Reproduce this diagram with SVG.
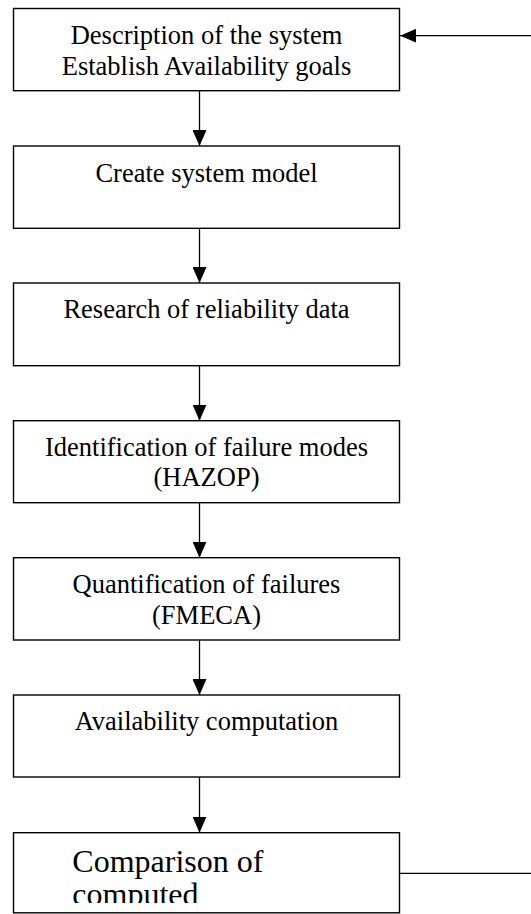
<svg xmlns="http://www.w3.org/2000/svg" width="531" height="914" viewBox="0 0 531 914">
  <style>
    .box { fill: #fff; stroke: #000; stroke-width: 1.4; }
    .lbl { font-family: "Liberation Serif", "Times New Roman", serif; font-size: 26.5px; fill: #000; text-anchor: middle; }
    .big { font-family: "Liberation Serif", "Times New Roman", serif; font-size: 32px; fill: #000; }
    .wire { fill: none; stroke: #000; stroke-width: 1.3; }
  </style>
  <defs>
    <marker id="head" markerUnits="userSpaceOnUse" markerWidth="16" markerHeight="14" refX="16" refY="7" orient="auto">
      <path d="M0,0 L16,7 L0,14 Z" fill="#000"/>
    </marker>
    <clipPath id="clip-last">
      <rect x="0" y="832" width="531" height="71"/>
    </clipPath>
  </defs>
  <rect width="531" height="914" fill="#fff"/>

  <g id="n1">
    <rect class="box" x="13.5" y="8.5" width="386" height="82.2"/>
    <text class="lbl" x="206.5" y="43.5">Description of the system</text>
    <text class="lbl" x="206.5" y="74.5">Establish Availability goals</text>
  </g>
  <g id="n2">
    <rect class="box" x="13.5" y="146" width="386" height="82.3"/>
    <text class="lbl" x="206.5" y="181.7">Create system model</text>
  </g>
  <g id="n3">
    <rect class="box" x="13.5" y="283" width="386" height="82.7"/>
    <text class="lbl" x="206.5" y="318.3">Research of reliability data</text>
  </g>
  <g id="n4">
    <rect class="box" x="13.5" y="420.7" width="386" height="82"/>
    <text class="lbl" x="206.5" y="455.7">Identification of failure modes</text>
    <text class="lbl" x="206.5" y="485.5">(HAZOP)</text>
  </g>
  <g id="n5">
    <rect class="box" x="13.5" y="557.7" width="386" height="82.3"/>
    <text class="lbl" x="206.5" y="593">Quantification of failures</text>
    <text class="lbl" x="206.5" y="624">(FMECA)</text>
  </g>
  <g id="n6">
    <rect class="box" x="13.5" y="695" width="386" height="82"/>
    <text class="lbl" x="206.5" y="730">Availability computation</text>
  </g>
  <g id="n7">
    <rect class="box" x="13.5" y="832.7" width="386" height="80.1"/>
    <g clip-path="url(#clip-last)">
      <text class="big" x="72.3" y="871.7">Comparison of</text>
      <text class="big" x="72.3" y="905">computed</text>
    </g>
  </g>

  <g id="connectors">
    <line class="wire" x1="199.5" y1="90.7" x2="199.5" y2="146" marker-end="url(#head)"/>
    <line class="wire" x1="199.5" y1="228.3" x2="199.5" y2="283" marker-end="url(#head)"/>
    <line class="wire" x1="199.5" y1="365.7" x2="199.5" y2="420.7" marker-end="url(#head)"/>
    <line class="wire" x1="199.5" y1="502.7" x2="199.5" y2="557.7" marker-end="url(#head)"/>
    <line class="wire" x1="199.5" y1="640" x2="199.5" y2="695" marker-end="url(#head)"/>
    <line class="wire" x1="199.5" y1="777" x2="199.5" y2="832.7" marker-end="url(#head)"/>
    <line class="wire" x1="531" y1="35.7" x2="400.2" y2="35.7" marker-end="url(#head)"/>
    <line class="wire" x1="399.5" y1="873.3" x2="531" y2="873.3"/>
  </g>
</svg>
